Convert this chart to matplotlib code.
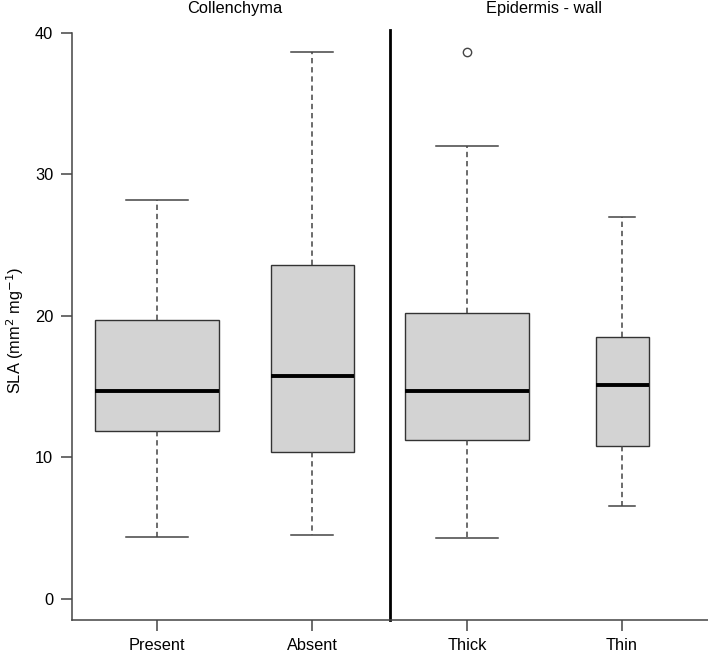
"""
SLA boxplots by collenchyma presence and epidermis wall thickness.
"""
import matplotlib
matplotlib.use("Agg")
import matplotlib.pyplot as plt

# -------------------- Data --------------------
groups = ["Present", "Absent", "Thick", "Thin"]
whislo = [4.33, 4.52, 4.31, 6.59]
q1 = [11.85, 10.39, 11.2, 10.79]
med = [14.7, 15.74, 14.7, 15.12]
q3 = [19.67, 23.6, 20.19, 18.47]
whishi = [28.2, 38.66, 32.0, 26.97]
fliers = [[], [], [38.6], []]
box_widths = [0.8, 0.535, 0.8, 0.342]  # varwidth-style

panel_titles = ["Collenchyma", "Epidermis - wall"]
yticks = [0, 10, 20, 30, 40]

# -------------------- Plot --------------------
plt.rcParams["font.family"] = ["Liberation Sans", "DejaVu Sans"]
fig = plt.figure(figsize=(7.08, 6.56), dpi=100)
W, H = 708, 656
ax = fig.add_axes([72 / W, (H - 620) / H, 1 - 72 / W, (620 - 10) / H])

stats = []
for i, g in enumerate(groups):
    stats.append(dict(label=g, whislo=whislo[i], q1=q1[i], med=med[i],
                      q3=q3[i], whishi=whishi[i], fliers=fliers[i]))

pos = list(range(1, len(groups) + 1))
for i, s in enumerate(stats):
    ax.bxp([s], positions=[pos[i]], widths=box_widths[i], patch_artist=True,
           capwidths=box_widths[i] / 2,
           boxprops=dict(facecolor="#d3d3d3", edgecolor="#333333", linewidth=1.0),
           medianprops=dict(color="black", linewidth=2.8, solid_capstyle="butt"),
           whiskerprops=dict(color="#444444", linewidth=1.1, linestyle=(0, (3.5, 2.5))),
           capprops=dict(color="#444444", linewidth=1.1),
           flierprops=dict(marker="o", markerfacecolor="white", markeredgecolor="#444444",
                           markersize=6, markeredgewidth=1.0))

ax.set_xlim(0.45, 4.555)
ax.set_ylim(-1.5, 41.6)

# divider between the two panels
ax.plot([2.5, 2.5], [-1.5, 40.2], color="black", linewidth=2.0, clip_on=False)

ax.set_yticks(yticks)
ax.set_xticks(pos)
ax.set_xticklabels(groups)
for side in ["top", "right"]:
    ax.spines[side].set_visible(False)
ax.spines["left"].set_bounds(-1.5, 40)
for side in ["left", "bottom"]:
    ax.spines[side].set_color("#444444")
    ax.spines[side].set_linewidth(1.1)
ax.tick_params(axis="both", length=8, width=1.1, color="#444444",
               labelsize=11.8, labelcolor="black")
ax.tick_params(axis="y", pad=5.5)
ax.tick_params(axis="x", pad=5)

fig.text(15 / W, 1 - 330 / H, "SLA (mm$^2$ mg$^{-1}$)", rotation=90,
         ha="center", va="center", fontsize=11.8)

fig.text(234.5 / W, 1 - 9 / H, panel_titles[0], ha="center", va="center", fontsize=11.8)
fig.text(544.5 / W, 1 - 9 / H, panel_titles[1], ha="center", va="center", fontsize=11.8)

fig.savefig("out.png", dpi=100)
